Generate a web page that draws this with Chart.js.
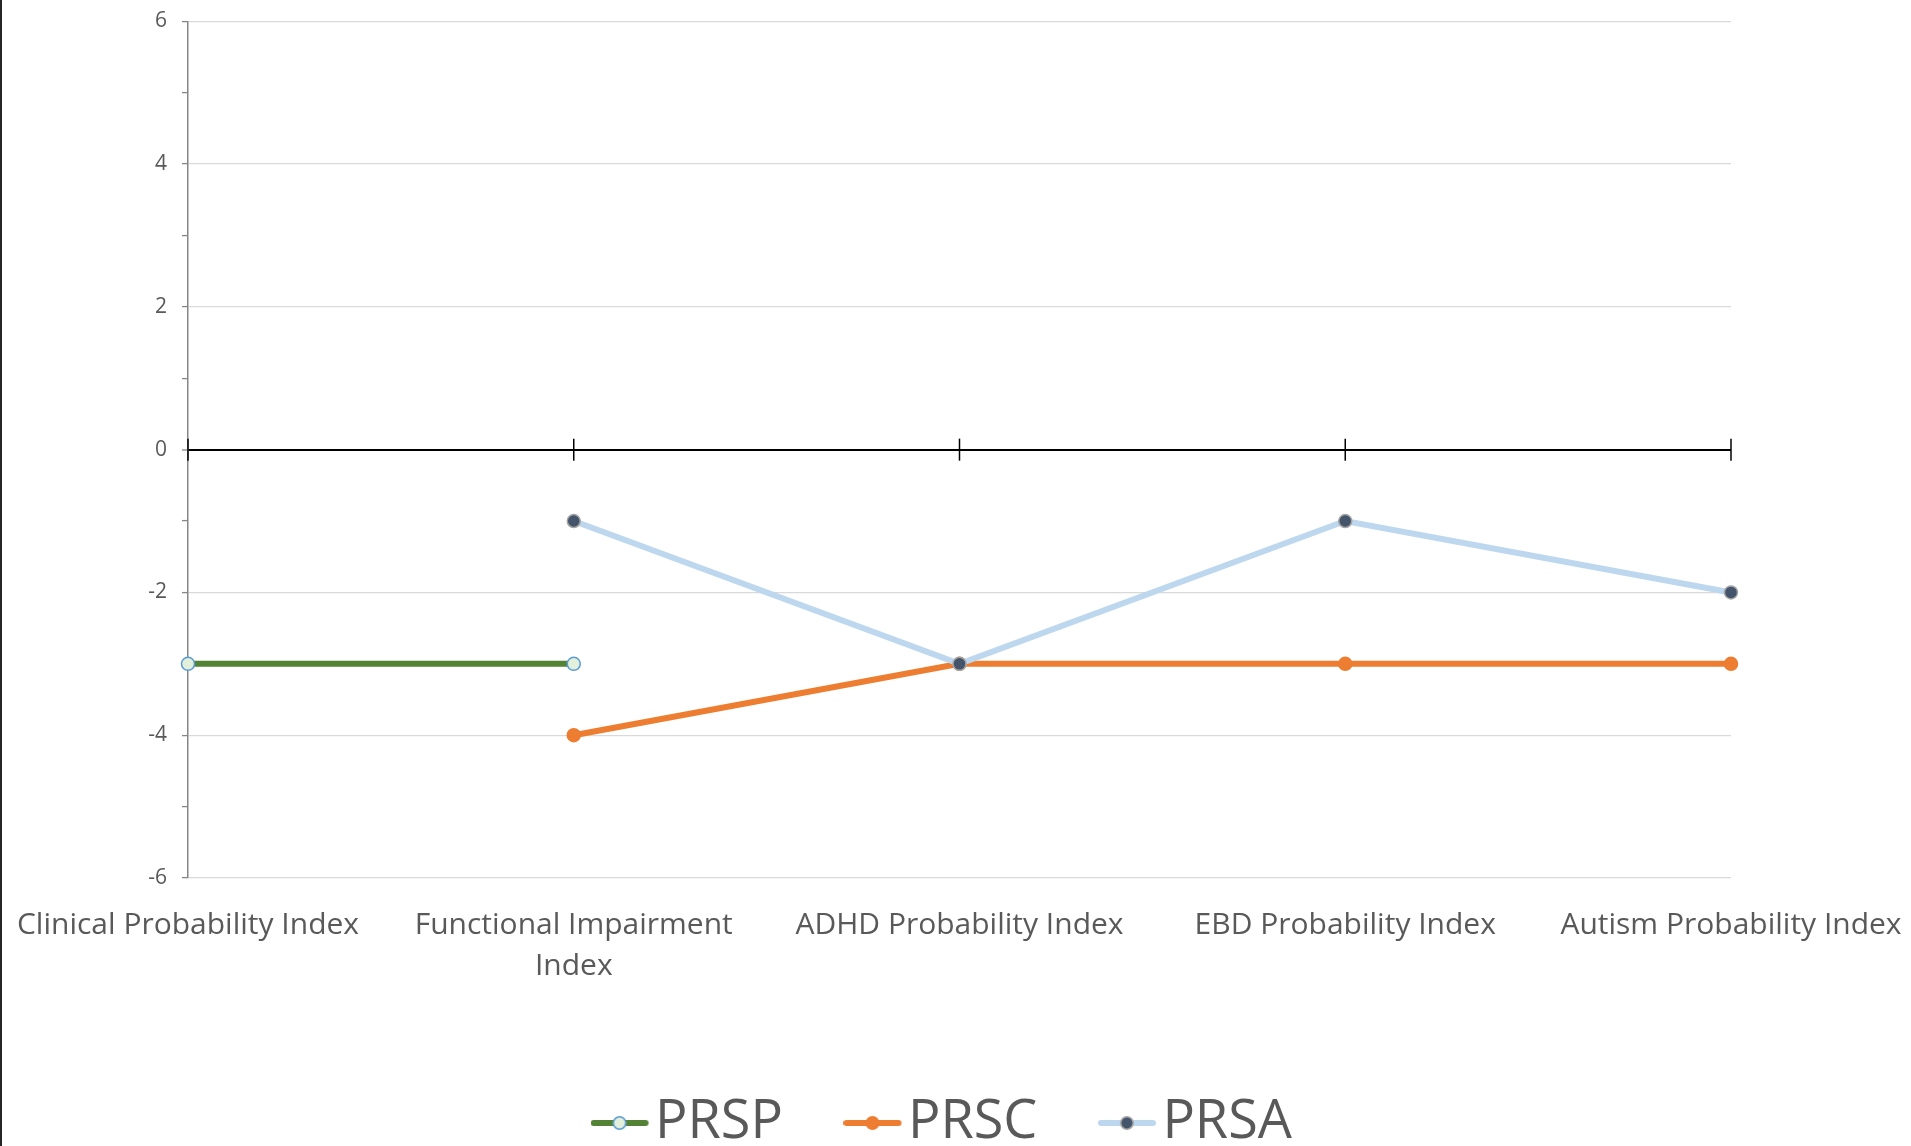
<!DOCTYPE html>
<html>
<head>
<meta charset="utf-8">
<script src="https://cdn.jsdelivr.net/npm/chart.js@4.4.1/dist/chart.umd.min.js"></script>
<style>
  html, body { margin: 0; padding: 0; background: #fff; overflow: hidden; }
  #wrap { position: relative; width: 1909px; height: 1160px; border-left: 2px solid #262626; }
</style>
</head>
<body>
<div id="wrap"><canvas id="indexChart"></canvas></div>
<script>
// chart values
const categories = [
    'Clinical Probability Index',
    ['Functional Impairment', 'Index'],
    'ADHD Probability Index',
    'EBD Probability Index',
    'Autism Probability Index'
];
const seriesNames = ['PRSP', 'PRSC', 'PRSA'];
const prspValues = [-3, -3, null, null, null];
const prscValues = [null, -4, -3, -3, -3];
const prsaValues = [null, -1, -3, -1, -2];
const yMin = -6;
const yMax = 6;

// legend symbol: line with a marker in the middle (drawn in the left part of the image)
function legendSymbol(lineColor, fill, stroke) {
    const c = document.createElement('canvas');
    c.width = 74;
    c.height = 16;
    const g = c.getContext('2d');
    g.strokeStyle = lineColor;
    g.lineWidth = 6;
    g.lineCap = 'round';
    g.beginPath();
    g.moveTo(3, 8);
    g.lineTo(55, 8);
    g.stroke();
    g.beginPath();
    g.arc(29, 8, 6.2, 0, Math.PI * 2);
    g.fillStyle = fill;
    g.fill();
    g.lineWidth = 1.5;
    g.strokeStyle = stroke;
    g.stroke();
    return c;
}

// black tick marks across the zero line at each category
const zeroTicks = {
    id: 'zeroTicks',
    beforeDatasetsDraw(chart) {
        const { ctx, scales: { x, y } } = chart;
        const y0 = y.getPixelForValue(0);
        ctx.save();
        ctx.strokeStyle = '#000';
        ctx.lineWidth = 1.5;
        categories.forEach((c, i) => {
            const px = x.getPixelForValue(i);
            ctx.beginPath();
            ctx.moveTo(px, y0 - 11);
            ctx.lineTo(px, y0 + 11);
            ctx.stroke();
        });
        ctx.restore();
    }
};

document.addEventListener('DOMContentLoaded', function () {
    Chart.defaults.font.family = "'Open Sans', sans-serif";
    Chart.defaults.color = '#595959';

    const styles = [
        { line: '#548235', fill: '#e2efda', stroke: '#5b9bd5' },
        { line: '#ed7d31', fill: '#ed7d31', stroke: '#ed7d31' },
        { line: '#bdd7ee', fill: '#44546a', stroke: '#a5a5a5' }
    ];
    const values = [prspValues, prscValues, prsaValues];

    const datasets = seriesNames.map((name, i) => ({
        label: name,
        data: values[i],
        borderColor: styles[i].line,
        backgroundColor: styles[i].line,
        borderWidth: 6,
        borderCapStyle: 'round',
        tension: 0,
        spanGaps: false,
        pointRadius: 6.5,
        pointBorderWidth: 1.5,
        pointBackgroundColor: styles[i].fill,
        pointBorderColor: styles[i].stroke,
        order: 3 - i
    }));

    const ctx = document.getElementById('indexChart').getContext('2d');
    new Chart(ctx, {
        type: 'line',
        data: { labels: categories, datasets: datasets },
        options: {
            responsive: true,
            maintainAspectRatio: false,
            animation: false,
            layout: { padding: { top: 20, right: 180, bottom: 0, left: 0 } },
            plugins: {
                tooltip: { enabled: false },
                legend: {
                    position: 'bottom',
                    fullSize: false,
                    labels: {
                        usePointStyle: true,
                        pointStyleWidth: 1,
                        padding: 97,
                        color: '#595959',
                        font: { size: 54 },
                        generateLabels: function (chart) {
                            return chart.data.datasets.map((ds, i) => ({
                                text: ds.label,
                                pointStyle: legendSymbol(styles[i].line, styles[i].fill, styles[i].stroke),
                                fillStyle: styles[i].line,
                                strokeStyle: styles[i].line,
                                fontColor: '#595959',
                                lineWidth: 0,
                                hidden: false,
                                datasetIndex: i
                            }));
                        }
                    }
                }
            },
            scales: {
                x: {
                    offset: false,
                    grid: {
                        display: true,
                        drawOnChartArea: false,
                        drawTicks: true,
                        tickLength: 27,
                        color: 'rgba(0,0,0,0)'
                    },
                    border: { display: false },
                    ticks: {
                        padding: 0,
                        maxRotation: 0,
                        autoSkip: false,
                        font: { size: 30, lineHeight: 1.37 }
                    },
                    afterFit: function (scale) { scale.height = 121; }
                },
                y: {
                    min: yMin,
                    max: yMax,
                    border: { color: '#868686', width: 1.5 },
                    grid: {
                        color: function (c) {
                            const v = c.tick.value;
                            if (v === 0) return '#000';
                            return v % 2 === 0 ? '#d9d9d9' : 'rgba(0,0,0,0)';
                        },
                        lineWidth: function (c) { return c.tick.value === 0 ? 2 : 1.2; },
                        tickColor: '#868686',
                        tickWidth: 1.3,
                        tickLength: 6
                    },
                    ticks: {
                        stepSize: 1,
                        padding: 15,
                        font: { size: 21, lineHeight: 0.6 },
                        callback: function (v) { return v % 2 === 0 ? v : ''; }
                    },
                    afterFit: function (scale) { scale.width = 186; }
                }
            }
        },
        plugins: [zeroTicks]
    });
});
</script>
</body>
</html>
